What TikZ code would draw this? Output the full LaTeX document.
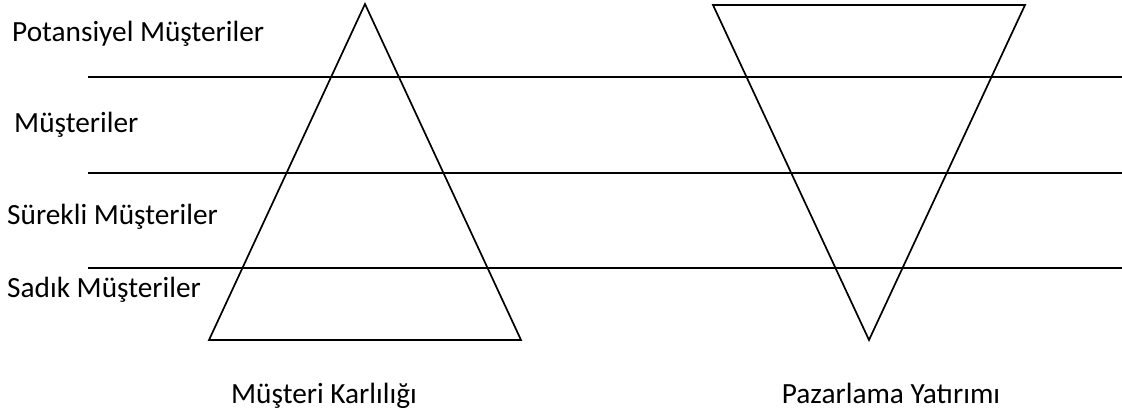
\documentclass[tikz,border=0pt]{standalone}
\usepackage{fontspec}
\setmainfont{Carlito}
\newlength\fitw
\begin{document}
\settowidth\fitw{\fontsize{10}{12}\selectfont Potansiyel Müşteriler}%
\pgfmathsetmacro\lblsz{10*252/\fitw}%
\begin{tikzpicture}[x=1pt,y=-1pt,
  lbl/.style={font=\fontsize{\lblsz pt}{\lblsz pt}\selectfont, inner sep=0pt, anchor=base west},
  captxt/.style={font=\fontsize{\lblsz pt}{\lblsz pt}\selectfont, inner sep=0pt, anchor=base},
  ln/.style={line width=1.7pt, line join=miter}]
\useasboundingbox (0,0) rectangle (1122,412);
% labels
\node[lbl] (pot) at (12,42) {Potansiyel Müşteriler};
\node[lbl] (mus) at (14,132) {Müşteriler};
\node[lbl] (sur) at (7,224) {Sürekli Müşteriler};
\node[lbl] (sad) at (7,297) {Sadık Müşteriler};
\node[captxt] (kar) at (324,403) {Müşteri Karlılığı};
\node[captxt] (paz) at (891,403) {Pazarlama Yatırımı};
% horizontal lines
\coordinate (l1a) at (88,77);  \coordinate (l1b) at (1122,77);
\coordinate (l2a) at (88,173); \coordinate (l2b) at (1122,173);
\coordinate (l3a) at (88,268); \coordinate (l3b) at (1122,268);
\draw[ln] (l1a) -- (l1b);
\draw[ln] (l2a) -- (l2b);
\draw[ln] (l3a) -- (l3b);
% triangles
\draw[ln] (365,4) -- (521,340) -- (209,340) -- cycle;
\draw[ln] (713,5) -- (1025,5) -- (869,340) -- cycle;
\end{tikzpicture}
\end{document}
